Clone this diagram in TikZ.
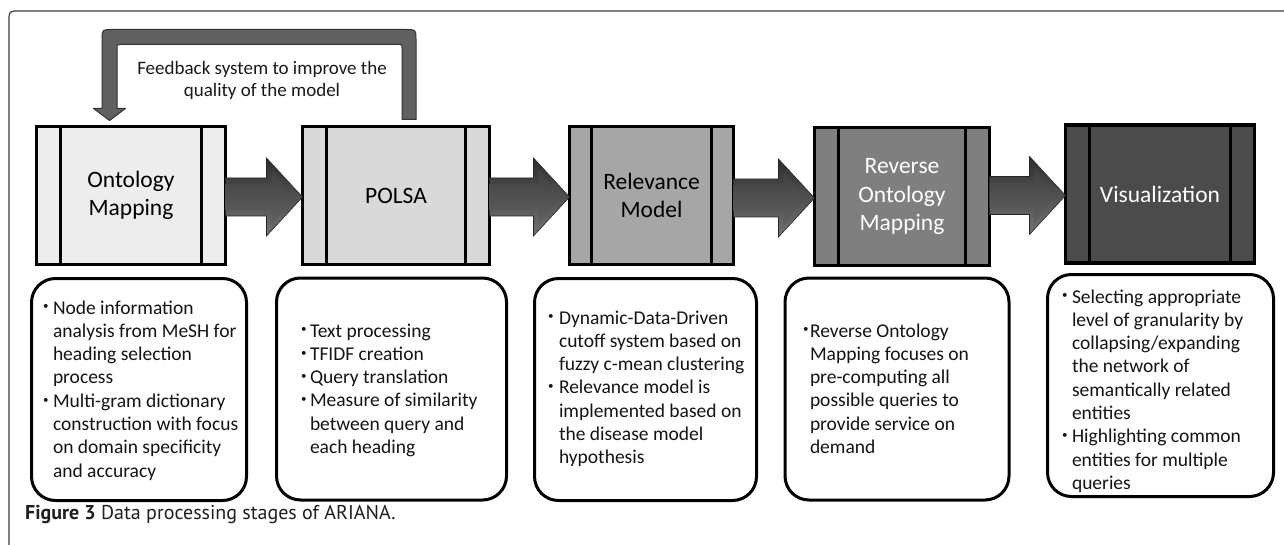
\documentclass[tikz,border=0pt]{standalone}
\usepackage{fontspec}
\setmainfont{Carlito}
\newfontfamily\capfont{PT Sans}
\usetikzlibrary{calc}
\definecolor{gA}{HTML}{EDEDED}
\definecolor{gB}{HTML}{D9D9D9}
\definecolor{gC}{HTML}{A6A6A6}
\definecolor{gD}{HTML}{7F7F7F}
\definecolor{gE}{HTML}{4B4B4B}
\definecolor{framecol}{HTML}{3A3A3A}
\definecolor{fbfill}{HTML}{606060}
\newcommand\bl[1]{\makebox[#1][l]{\raisebox{4.2pt}{\fontsize{11}{11}\selectfont •}}}
\newcommand\blockarr[2]{%
  \path let \p1=(#1.east), \p2=($(#2.west)+(0,1.5)$) in
    [shade, top color=black!82, bottom color=black!55, draw=black!85, line width=0.6pt]
    (\x1,\y2+19pt) -- (\x2-36pt,\y2+19pt) -- (\x2-36pt,\y2+39pt) -- (\x2,\y2)
    -- (\x2-36pt,\y2-39pt) -- (\x2-36pt,\y2-19pt) -- (\x1,\y2-19pt) -- cycle;
  \path let \p1=(#1.east), \p2=($(#2.west)+(0,1.5)$) in
    [shade, top color=black!75, bottom color=black!62]
    (\x1,\y2+13pt) -- (\x2-31pt,\y2+13pt) -- (\x2-31pt,\y2+28pt) -- (\x2-10pt,\y2)
    -- (\x2-31pt,\y2-28pt) -- (\x2-31pt,\y2-13pt) -- (\x1,\y2-13pt) -- cycle;
}
\tikzset{
  stage/.style={draw=black, line width=3.5pt, inner sep=0pt, outer sep=0pt,
    minimum height=138pt, align=center, font=\fontsize{23.5}{28.5}\selectfont},
  sideline/.style={draw=black, line width=3.5pt},
  tbox/.style={draw=black, line width=3pt, rounded corners=24pt, fill=white,
    inner sep=0pt, outer sep=0pt, minimum height=222pt},
  txt/.style={inner sep=0pt, outer sep=0pt, anchor=base west, text=black!92,
    font=\fontsize{19.5}{23.3}\selectfont},
}
\begin{document}
\begin{tikzpicture}[x=1pt,y=-1pt]
\useasboundingbox (0,0) rectangle (1284,545);
\fill[white] (0,0) rectangle (1284,545);
% outer frame
\draw[framecol, line width=1.2pt] (9,545) -- (9,21) .. controls (9,11) .. (19,11) -- (1284,11);

% stage boxes
\node[stage, fill=gA, minimum width=189pt] (s1) at (131,195.5) {Ontology\\Mapping};
\node[stage, fill=gB, minimum width=187pt] (s2) at (396,195.5) {POLSA};
\node[stage, fill=gC, minimum width=164pt] (s3) at (651.5,195.5) {Relevance\\Model};
\node[stage, fill=gD, minimum width=175pt, text=white] (s4) at (902,196.5) {Reverse\\Ontology\\Mapping};
\node[stage, fill=gE, minimum width=189pt, text=white] (s5) at (1160,194) {Visualization};

\foreach \n/\d in {s1/24,s2/24,s3/22,s4/24,s5/24}{
  \draw[sideline] ($(\n.north west)+(\d,0)$) -- ($(\n.south west)+(\d,0)$);
  \draw[sideline] ($(\n.north east)+(-\d,0)$) -- ($(\n.south east)+(-\d,0)$);
}

% block arrows
\blockarr{s1}{s2}
\blockarr{s2}{s3}
\blockarr{s3}{s4}
\blockarr{s4}{s5}

% feedback arrow
\coordinate (fbR) at ($(s2.north)+(13,-7)$);
\coordinate (fbL) at ($(s1.north)+(-21.5,-6)$);
\path let \p1=(fbL), \p2=(fbR) in
  [fill=fbfill, draw=black!80, line width=1pt, line join=round]
  (\x2-7pt,\y2) -- (\x2-7pt,\y2+72pt) .. controls (\x2-7pt,\y2+75pt) .. (\x2-10pt,\y2+75pt)
  -- (\x1+10.5pt,\y2+75pt) .. controls (\x1+7.5pt,\y2+75pt) .. (\x1+7.5pt,\y2+72pt)
  -- (\x1+7.5pt,\y1+12pt) -- (\x1+16pt,\y1+12pt) -- (\x1,\y1) -- (\x1-16pt,\y1+12pt)
  -- (\x1-7.5pt,\y1+12pt) -- (\x1-7.5pt,\y2+80pt) .. controls (\x1-7.5pt,\y2+90pt) .. (\x1+2.5pt,\y2+90pt)
  -- (\x2-3pt,\y2+90pt) .. controls (\x2+7pt,\y2+90pt) .. (\x2+7pt,\y2+80pt)
  -- (\x2+7pt,\y2) -- cycle;
\node[inner sep=0pt, align=center, text=black!90, font=\fontsize{19}{22}\selectfont, anchor=base]
  (fbtext) at (262,97) {Feedback system to improve the\\quality of the model};

% text boxes
\node[tbox, minimum width=215pt] (tA) at (139,389.5) {};
\node[tbox, minimum width=230pt] (tB) at (391.5,389) {};
\node[tbox, minimum width=222pt] (tC) at (645.5,389.5) {};
\node[tbox, minimum width=224pt] (tD) at (897,389) {};
\node[tbox, minimum width=226pt] (tE) at (1160.5,385.5) {};

\node[txt] (xA) at (43,314) {\begin{tabular}[t]{@{}l@{}l@{}}
  \bl{10pt} & Node information\\ & analysis from MeSH for\\ & heading selection\\ & process\\
  \bl{10pt} & Multi-gram dictionary\\ & construction with focus\\ & on domain specificity\\ & and accuracy
  \end{tabular}};
\node[txt] (xB) at (301,337) {\begin{tabular}[t]{@{}l@{}l@{}}
  \bl{9pt} & Text processing\\
  \bl{9pt} & TFIDF creation\\
  \bl{9pt} & Query translation\\
  \bl{9pt} & Measure of similarity\\ & between query and\\ & each heading
  \end{tabular}};
\node[txt] (xC) at (548,324) {\begin{tabular}[t]{@{}l@{}l@{}}
  \bl{11pt} & Dynamic-Data-Driven\\ & cutoff system based on\\ & fuzzy c-mean clustering\\
  \bl{11pt} & Relevance model is\\ & implemented based on\\ & the disease model\\ & hypothesis
  \end{tabular}};
\node[txt] (xD) at (803,337) {\begin{tabular}[t]{@{}l@{}l@{}}
  \bl{7pt} & Reverse Ontology\\ & Mapping focuses on\\ & pre-computing all\\ & possible queries to\\ & provide service on\\ & demand
  \end{tabular}};
\node[txt] (xE) at (1062,303) {\begin{tabular}[t]{@{}l@{}l@{}}
  \bl{10pt} & Selecting appropriate\\ & level of granularity by\\ & collapsing/expanding\\ & the network of\\ & semantically related\\ & entities\\
  \bl{10pt} & Highlighting common\\ & entities for multiple\\ & queries
  \end{tabular}};

% caption
\node[inner sep=0pt, anchor=base west, text=black!88, font=\capfont\fontsize{20}{24}\selectfont]
  (cap) at (25,519.3) {\textbf{Figure 3} Data processing stages of ARIANA.};
\end{tikzpicture}
\end{document}
